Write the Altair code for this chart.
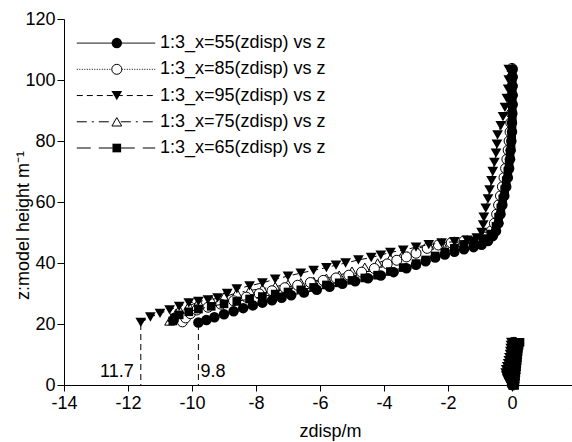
import altair as alt
import pandas as pd

FONT = "Liberation Sans, Arial, sans-serif"

labels = ["1:3_x=55(zdisp) vs z", "1:3_x=85(zdisp) vs z", "1:3_x=95(zdisp) vs z",
          "1:3_x=75(zdisp) vs z", "1:3_x=65(zdisp) vs z"]

# ---- series x=55 (filled circle, solid line)
x55 = [-9.80,-9.55,-9.30,-9.00,-8.70,-8.40,-8.10,-7.80,-7.50,-7.20,-6.90,-6.50,-6.10,-5.70,-5.30,
       -4.90,-4.50,-4.10,-3.70,-3.30,-3.00,-2.70,-2.40,-2.10,-1.80,-1.50,-1.20,-0.95,-0.75,-0.60,
       -0.50,-0.42,-0.36,-0.30,-0.24,-0.18,-0.13,-0.09,-0.06,-0.04,-0.02,0.00,0.00,0.01,0.02,
       0.02,0.02,0.02,0.02]
z55 = [20.5,21.3,22.2,23.2,24.2,25.2,26.1,27.0,27.8,28.6,29.4,30.3,31.2,32.2,33.2,
       34.0,35.0,35.9,37.0,38.3,39.4,40.6,41.8,42.8,43.7,44.5,45.2,46.0,47.2,48.8,
       50.5,53,56,59,62,65,68,71,74,77,80,83,86,89,92,95,98,101,103.5]
# ---- series x=85 (open circle, dotted line)
x85 = [-10.30,-10.20,-10.05,-9.85,-9.50,-9.10,-8.70,-8.30,-7.90,-7.50,-7.10,-6.70,-6.30,-5.90,-5.50,
       -5.10,-4.70,-4.30,-3.90,-3.60,-3.30,-3.00,-2.65,-2.30,-1.90,-1.50,-1.10,-0.80,-0.65,-0.55,
       -0.48,-0.42,-0.36,-0.30,-0.25,-0.20,-0.16,-0.12,-0.09,-0.06,-0.04,-0.02,0.00,0.00,0.00,0.00,0.00]
z85 = [20.7,22.0,23.4,24.6,25.5,26.5,27.6,28.8,29.9,30.9,31.9,32.7,33.6,34.3,35.1,
       36.0,37.0,38.2,39.7,40.9,42.0,43.2,44.8,45.9,46.6,47.2,47.6,48.5,50.5,53,
       56,59,62,65,68,71,74,77,80,83,86,89,92,95,98,101,103.8]
# ---- series x=95 (filled down-triangle, dashed line)
x95 = [-11.60,-11.30,-11.00,-10.70,-10.40,-10.10,-9.80,-9.50,-9.20,-8.90,-8.60,-8.20,-7.80,-7.40,-7.00,
       -6.60,-6.20,-5.80,-5.50,-5.20,-4.80,-4.40,-4.10,-3.80,-3.40,-3.00,-2.60,-2.20,-1.80,-1.40,
       -1.10,-0.95,-0.90,-0.88,-0.82,-0.75,-0.70,-0.64,-0.60,-0.55,-0.50,-0.47,-0.45,-0.35,-0.28,
       -0.22,-0.16,-0.12,-0.10,-0.10]
z95 = [20.5,22.3,23.5,24.6,25.8,26.9,27.4,27.9,28.6,30.0,31.5,32.5,33.5,34.7,35.7,
       36.7,37.6,38.5,39.3,40.0,41.0,41.8,42.6,43.5,44.2,45.2,46.0,46.6,47.0,47.5,
       48.2,50,52.5,55,58,61,64,67,70,73,76,79,82,85,88,91,94,97,100,103.5]
# ---- series x=75 (open up-triangle, dash-dot line)
x75 = [-10.70,-10.60,-10.50,-10.40,-10.10,-9.80,-9.40,-9.00,-8.60,-8.20,-7.80,-7.40,-7.00,-6.60,-6.20,
       -5.80,-5.40,-5.00,-4.60,-4.20,-3.80,-3.40,-3.00,-2.60,-2.20,-1.80,-1.40,-1.00,-0.75,-0.60,
       -0.52,-0.45,-0.38,-0.32,-0.27,-0.22,-0.18,-0.14,-0.10,-0.07,-0.05,-0.03,-0.01,0.00,0.00,
       0.00,0.00,0.00]
z75 = [21.0,22.2,23.5,24.8,26.0,27.2,28.0,28.9,30.2,31.0,31.6,32.3,33.0,33.5,34.0,
       35.0,36.0,37.3,38.6,40.0,41.5,43.0,44.6,45.9,46.6,47.2,47.7,48.0,49.0,51.5,
       54.5,57.5,60.5,63.5,66.5,69.5,72.5,75.5,78.5,81.5,84.5,87.5,90.5,93.5,96.5,
       99.5,102.5,104.2]
# ---- series x=65 (filled square, long-dash line)
x65 = [-10.60,-10.55,-10.40,-10.10,-9.80,-9.40,-9.00,-8.60,-8.20,-7.80,-7.40,-7.00,-6.60,-6.20,-5.80,
       -5.40,-5.00,-4.60,-4.20,-3.80,-3.40,-3.00,-2.70,-2.40,-2.10,-1.80,-1.50,-1.20,-0.90,-0.65,
       -0.50,-0.42,-0.35,-0.29,-0.23,-0.18,-0.13,-0.09,-0.06,-0.03,-0.01,0.00,0.01,0.01,0.01,
       0.01,0.01,0.01]
z65 = [21.0,22.0,23.0,24.0,24.9,25.8,26.6,27.4,28.2,29.0,29.8,30.5,31.2,32.0,32.8,
       33.5,34.3,35.1,36.0,37.2,38.5,39.8,41.0,42.3,43.6,44.8,46.0,47.2,48.0,49.5,
       52,55,58,61,64,67,70,73,76,79,82,85,88,91,94,97,100,103]

# ---- lower segment (z = 0..14, near zero displacement)
z_low = [0,1,2,3,4,5,6,7,8,9,10,11,12,13,14]
x55_low = [0.00,0.00,0.00,0.00,0.01,0.01,0.01,0.01,0.01,0.01,0.02,0.02,0.02,0.02,0.02]
x85_low = [0.03,0.03,0.03,0.04,0.04,0.04,0.05,0.05,0.05,0.05,0.06,0.06,0.06,0.07,0.07]
x95_low = [-0.05,-0.10,-0.15,-0.18,-0.20,-0.18,-0.15,-0.12,-0.10,-0.08,-0.06,-0.05,-0.04,-0.03,-0.02]
x75_low = [0.05,0.06,0.07,0.08,0.09,0.10,0.10,0.11,0.11,0.12,0.12,0.13,0.13,0.14,0.14]
x65_low = [0.08,0.09,0.10,0.11,0.12,0.13,0.14,0.15,0.16,0.17,0.18,0.19,0.20,0.22,0.25]

# ---- annotations
ann_x = [-11.6, -9.8]
ann_top = [20, 20]
ann_text = ["11.7", "9.8"]

x_ticks = [-14, -12, -10, -8, -6, -4, -2, 0, 2]
y_ticks = [0, 20, 40, 60, 80, 100, 120]

series = [
    dict(label=labels[3], x=x75, z=z75, xl=x75_low, shape="triangle-up", filled=False, dash=[10, 5, 2, 5], size=95),
    dict(label=labels[1], x=x85, z=z85, xl=x85_low, shape="circle", filled=False, dash=[1, 1.5], size=100),
    dict(label=labels[2], x=x95, z=z95, xl=x95_low, shape="triangle-down", filled=True, dash=[6, 4], size=115),
    dict(label=labels[4], x=x65, z=z65, xl=x65_low, shape="square", filled=True, dash=[14, 8], size=75),
    dict(label=labels[0], x=x55, z=z55, xl=x55_low, shape="circle", filled=True, dash=[1, 0], size=110),
]
legend_order = [labels[0], labels[1], labels[2], labels[3], labels[4]]

xscale = alt.Scale(domain=[-14, 2], range=[0, 512], nice=False, zero=False)
yscale = alt.Scale(domain=[0, 120], nice=False, zero=False)
xaxis = alt.Axis(values=x_ticks, title="zdisp/m", grid=False, tickSize=6, labelPadding=3,
                 labelExpr="'' + datum.value",
                 titleX=266, titleY=51, titleBaseline="alphabetic", titleAnchor="start",
                 titleAlign="center", labelFlush=False, labelOverlap=False)
yaxis = alt.Axis(values=y_ticks, title="z:model height m\u207b\u00b9", grid=False, tickSize=7,
                 labelPadding=2, labelExpr="'' + datum.value",
                 titleX=-36, titleY=206, titleBaseline="alphabetic",
                 titleAlign="center", titleAngle=270, labelFlush=False)


def X(field="x"):
    return alt.X(f"{field}:Q", scale=xscale, axis=xaxis)


def Y(field="y"):
    return alt.Y(f"{field}:Q", scale=yscale, axis=yaxis)


def points(df, s, extra=0):
    if s["filled"]:
        pm = alt.Chart(df).mark_point(shape=s["shape"], filled=True, color="black",
                                      size=s["size"] + extra, opacity=1)
    else:
        pm = alt.Chart(df).mark_point(shape=s["shape"], filled=True, fill="white", stroke="black",
                                      strokeWidth=1, size=s["size"] + extra, opacity=1)
    return pm


layers = []

# dashed drop lines with their labels
ann = pd.DataFrame({"x": ann_x, "y": ann_top, "y0": [0, 0], "t": ann_text,
                    "ty": [2.6, 2.6]})
layers.append(alt.Chart(ann).mark_rule(color="black", strokeWidth=1, strokeDash=[6, 4])
              .encode(x=X(), y=Y(), y2="y0:Q"))
layers.append(alt.Chart(ann.iloc[[0]]).mark_text(font=FONT, fontSize=18, align="right", dx=-7,
                                                   baseline="alphabetic", color="black")
              .encode(x=X(), y=Y("ty"), text="t:N"))
layers.append(alt.Chart(ann.iloc[[1]]).mark_text(font=FONT, fontSize=18, align="left", dx=2,
                                                   baseline="alphabetic", color="black")
              .encode(x=X(), y=Y("ty"), text="t:N"))

for s in series:
    rows = []
    for i, (xv, zv) in enumerate(zip(s["xl"], z_low)):
        rows.append({"x": xv, "y": zv, "seg": "low", "i": i})
    for i, (xv, zv) in enumerate(zip(s["x"], s["z"])):
        rows.append({"x": xv, "y": zv, "seg": "up", "i": i})
    df = pd.DataFrame(rows)
    layers.append(alt.Chart(df).mark_line(color="black", strokeWidth=1, strokeDash=s["dash"])
                  .encode(x=X(), y=Y(), detail="seg:N", order="i:Q"))
    layers.append(points(df, s).encode(x=X(), y=Y()))

# legend (drawn in data space, top-left of plot)
leg_top, leg_step = 112.1, 8.6
by_label = {s["label"]: s for s in series}
for r, lab in enumerate(legend_order):
    s = by_label[lab]
    ly = leg_top - r * leg_step
    ldf = pd.DataFrame({"x": [-13.6], "x2": [-11.15], "xm": [-12.35], "xt": [-11.0], "y": [ly], "t": [lab]})
    layers.append(alt.Chart(ldf).mark_rule(color="black", strokeWidth=1, strokeDash=s["dash"])
                  .encode(x=X(), x2="x2:Q", y=Y()))
    layers.append(points(ldf, s, 0).encode(x=X("xm"), y=Y()))
    layers.append(alt.Chart(ldf).mark_text(font=FONT, fontSize=18, align="left", baseline="middle",
                                           color="black")
                  .encode(x=X("xt"), y=Y(), text="t:N"))

chart = alt.layer(*layers).properties(
    width=508, height=366,
    autosize=alt.AutoSizeParams(type="none"),
    padding={"left": 64, "top": 19, "right": 0, "bottom": 57},
    background="white",
).configure_view(stroke=None).configure_axis(
    domainColor="black", tickColor="black", labelColor="black", titleColor="black",
    labelFont=FONT, titleFont=FONT, labelFontSize=18, titleFontSize=18, titleFontWeight="normal",
    domainWidth=1, tickWidth=1,
)

chart.save("out.html", embed_options={"renderer": "svg", "actions": False})
